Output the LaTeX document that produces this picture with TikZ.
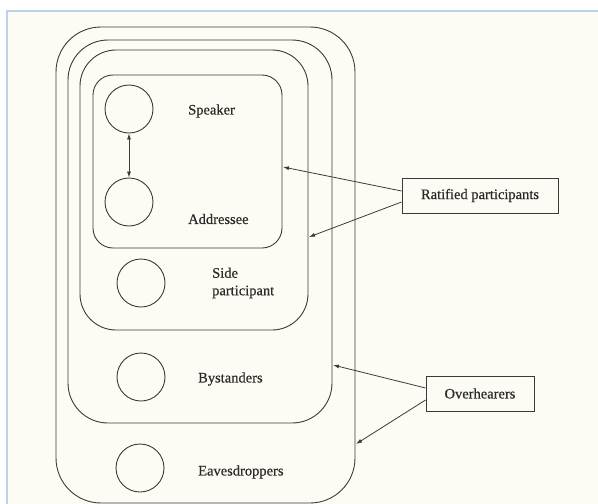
\documentclass[tikz,border=0pt]{standalone}
\usepackage{fontspec}
\setmainfont{Liberation Serif}[FakeBold=0.5]
\usetikzlibrary{arrows.meta}
\definecolor{cream}{HTML}{FDFCF4}
\definecolor{frameblue}{HTML}{BFD0EA}
\definecolor{ink}{HTML}{3A3A3A}
\definecolor{textink}{HTML}{2A2A2A}
\tikzset{
  ring/.style={draw=ink, line width=0.9pt},
  person/.style={circle, draw=ink, line width=0.9pt, minimum size=48pt, inner sep=0pt},
  lbl/.style={anchor=west, text=textink, font=\fontsize{14.5}{17.5}\selectfont, inner sep=0pt, align=left},
  callout/.style={draw=ink, line width=0.9pt, minimum width=156pt, minimum height=35pt, inner sep=0pt, text=textink, font=\fontsize{14.5}{17.5}\selectfont},
  pointer/.style={draw=ink, line width=0.8pt, -{Latex[length=6pt,width=4pt]}},
}
\begin{document}
\begin{tikzpicture}[x=1pt,y=-1pt]
\useasboundingbox (0,0) rectangle (598,504);
\clip (0,0) rectangle (598,504);
\fill[white] (0,0) rectangle (598,504);
\fill[cream] (7,10) rectangle (598,504);
\draw[frameblue, line width=2.5pt] (7,504) -- (7,11) -- (598,11);
% nested rounded regions
\draw[ring, rounded corners=45pt] (56,27) rectangle (355,503);
\draw[ring, rounded corners=40pt] (68,40) rectangle (332,423);
\draw[ring, rounded corners=36pt] (80,50) rectangle (308,330);
\draw[ring, rounded corners=20pt] (93,75) rectangle (282,248);
% participants
\node[person] (spk) at (129,109) {};
\node[person] (adr) at (129,202) {};
\node[person] (side) at (141,283) {};
\node[person] (bys) at (141,377) {};
\node[person] (eav) at (140,468) {};
\node[lbl] (spkl) at (188,111) {Speaker};
\node[lbl] (adrl) at (188,219) {Addressee};
\node[lbl] (sidel) at (212,283) {Side\\participant};
\node[lbl] (bysl) at (198,379) {Bystanders};
\node[lbl] (eavl) at (198,472) {Eavesdroppers};
\draw[draw=ink, line width=0.8pt, {Latex[length=6pt,width=4pt]}-{Latex[length=6pt,width=4pt]}] (spk.south) -- (adr.north);
% callouts
\node[callout] (rat) at (480,195.5) {Ratified participants};
\node[callout, minimum width=108pt] (ovh) at (480,393.5) {Overhearers};
\coordinate (t1) at (283,167);
\coordinate (t2) at (309,237);
\coordinate (t3) at (333,365);
\coordinate (t4) at (356,444);
\draw[pointer] ([yshift=4.5pt]rat.west) -- (t1);
\draw[pointer] ([yshift=-6.5pt]rat.west) -- (t2);
\draw[pointer] ([yshift=5.5pt]ovh.west) -- (t3);
\draw[pointer] ([yshift=-6.5pt]ovh.west) -- (t4);
\end{tikzpicture}
\end{document}
